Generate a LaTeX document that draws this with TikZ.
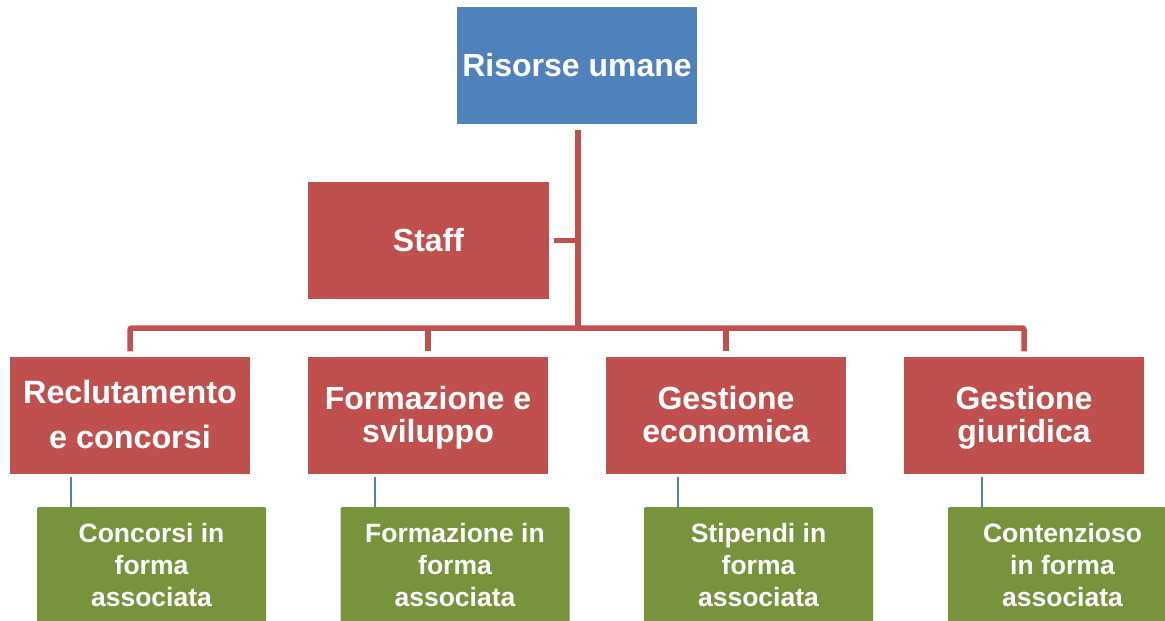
\documentclass[tikz,border=0pt]{standalone}
\usepackage{fontspec}
\setmainfont{Liberation Sans}
\usetikzlibrary{calc}
\definecolor{hrblue}{HTML}{4F81BD}
\definecolor{hrred}{HTML}{C0504D}
\definecolor{hrgreen}{HTML}{77933C}
% equal room above the first line and below the last line of a unit label
\newcommand{\highline}{\rule{0pt}{28pt}}
\newcommand{\lowline}{\vphantom{g}}

\begin{document}
\begin{tikzpicture}[x=1pt,y=-1pt,
  box/.style={rectangle, inner sep=0pt, text=white, align=center, minimum height=117pt},
  headbox/.style={box, fill=hrblue, minimum width=240pt, font=\bfseries\fontsize{32}{38}\selectfont},
  unitbox/.style={box, fill=hrred, minimum width=240pt, font=\bfseries\fontsize{32}{33}\selectfont},
  officebox/.style={box, fill=hrgreen, minimum width=229pt, rounded corners=2pt, font=\bfseries\fontsize{26.5}{32}\selectfont},
  trunk/.style={draw=hrred, line width=5.5pt},
  twig/.style={draw=hrblue, line width=2pt}]
\clip (0,0) rectangle (1165,621);
\fill[white] (0,0) rectangle (1165,621);

% head of the department
\node[headbox] (top) at (577,65.5) {Risorse umane};
\node[unitbox, minimum width=241pt] (staff) at (428.5,240.5) {Staff};

% operational units
\node[unitbox, font=\bfseries\fontsize{32.3}{45}\selectfont] (u1) at (130,415.5) {\highline Reclutamento\\e concorsi\lowline};
\node[unitbox] (u2) at (428,415.5) {\highline Formazione e\\sviluppo\lowline};
\node[unitbox] (u3) at (726,415.5) {\highline Gestione\\economica\lowline};
\node[unitbox] (u4) at (1024,415.5) {\highline Gestione\\giuridica\lowline};

% shared offices
\node[officebox] (g1) at (151.5,565.5) {Concorsi in\\forma\\associata};
\node[officebox] (g2) at (455,565.5) {Formazione in\\forma\\associata};
\node[officebox] (g3) at (758.5,565.5) {Stipendi in\\forma\\associata};
\node[officebox] (g4) at (1062.5,565.5) {Contenzioso\\in forma\\associata};

% red hierarchy lines
\coordinate (hub) at (578,328);
\draw[trunk] ([yshift=-6pt]top.south -| hub) -- (hub);
\draw[trunk] ([xshift=5pt]staff.east) -- (staff.east -| hub);
\draw[trunk, rounded corners=2pt] ([yshift=5.5pt]u1.north) -- (u1.north |- hub)
  -- (u4.north |- hub) -- ([yshift=5.5pt]u4.north);
\draw[trunk] (u2.north |- hub) -- ([yshift=5.5pt]u2.north);
\draw[trunk] (u3.north |- hub) -- ([yshift=5.5pt]u3.north);

% blue links to the shared offices
\foreach \u/\g in {u1/g1,u2/g2,u3/g3,u4/g4}{
  \draw[twig] ($(\g.north west |- \u.south)+(34.5pt,-3pt)$) -- ($(\g.north west)+(34.5pt,0pt)$);
}
\end{tikzpicture}
\end{document}
